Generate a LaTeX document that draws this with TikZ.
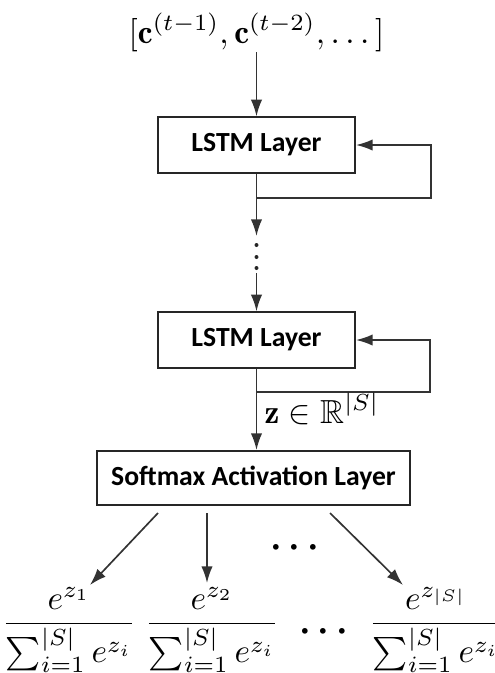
\documentclass[tikz,border=0pt]{standalone}
\usepackage{amsmath,amssymb}
\usepackage{fontspec}
\newfontfamily\carlito{Carlito}
\usetikzlibrary{arrows.meta}
\begin{document}
\begin{tikzpicture}[x=0.3pt,y=-0.3pt,
  box/.style={draw=black!85, line width=0.6pt, inner sep=0pt, minimum height=16.6pt,
    font=\carlito\bfseries\fontsize{8.3}{10}\selectfont},
  conn/.style={draw=black!80, line width=0.5pt},
  arr/.style={conn, -{Latex[length=5pt,width=3.4pt]}},
  dotfill/.style={fill=black!85}]
\useasboundingbox (0,0) rectangle (494,673);
\node[anchor=base, inner sep=0pt] (top) at (256.5,43) {$[\mathbf{c}^{(t-1)},\mathbf{c}^{(t-2)},\dots]$};
\node[box, minimum width=59.1pt] (l1) at (256.5,145) {LSTM Layer};
\node[box, minimum width=59.1pt] (l2) at (256.5,340) {LSTM Layer};
\node[box, minimum width=94pt, minimum height=16.2pt] (sm) at (253.5,478) {Softmax Activation Layer};
\coordinate (r1) at (431,198);
\coordinate (r2) at (430,392);
\coordinate (c1) at (256.5,236);
\coordinate (c2) at (256.5,273);
\draw[arr] (top.south) -- (l1.north);
\draw[arr] (l1.south) -- (l1.south |- r1) -- (r1) |- (l1.east);
\draw[arr] (l1.south) -- (c1);
\fill[dotfill] (256.5,245) circle (2);
\fill[dotfill] (256.5,257) circle (2);
\fill[dotfill] (256.5,268) circle (2);
\draw[arr] (c2) -- (l2.north);
\draw[arr] (l2.south) -- (l2.south |- r2) -- (r2) |- (l2.east);
\draw[arr] (l2.south) -- (l2.south |- sm.north);
\node[anchor=base west, inner sep=0pt] (zl) at (264,423) {$\mathbf{z}\in\mathbb{R}^{|S|}$};
\node[anchor=base, inner sep=0pt] (f1) at (69,632) {$\dfrac{e^{z_1}}{\sum_{i=1}^{|S|} e^{z_i}}$};
\node[anchor=base, inner sep=0pt] (f2) at (212,632) {$\dfrac{e^{z_2}}{\sum_{i=1}^{|S|} e^{z_i}}$};
\node[anchor=base, inner sep=0pt] (f3) at (436,632) {$\dfrac{e^{z_{|S|}}}{\sum_{i=1}^{|S|} e^{z_i}}$};
\node[inner sep=0pt, font=\fontsize{11}{13}\selectfont\boldmath] (e1) at (298,548) {$\cdots$};
\node[inner sep=0pt, font=\fontsize{11}{13}\selectfont\boldmath] (e2) at (327,632) {$\cdots$};
\coordinate (s1) at (158,513); \coordinate (t1) at (90,585);
\coordinate (s2) at (207,513); \coordinate (t2) at (207,583);
\coordinate (s3) at (330,513); \coordinate (t3) at (403,585);
\draw[arr] (s1) -- (t1);
\draw[arr] (s2) -- (t2);
\draw[arr] (s3) -- (t3);
\end{tikzpicture}
\end{document}
